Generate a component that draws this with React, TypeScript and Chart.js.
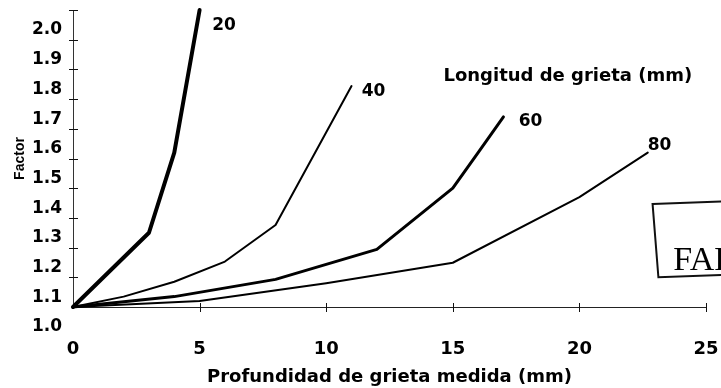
import React, { useEffect, useRef } from 'react';
import { Chart, registerables } from 'chart.js';

Chart.register(...registerables);

// ---- data ----
const seriesNames = ['20', '40', '60', '80'];
const x20 = [0, 3, 4, 5];
const y20 = [1.0, 1.25, 1.52, 2.0];
const x40 = [0, 2, 4, 6, 8, 11];
const y40 = [1.0, 1.035, 1.085, 1.153, 1.276, 1.744];
const x60 = [0, 4, 8, 12, 15, 16, 17];
const y60 = [1.0, 1.035, 1.093, 1.194, 1.4, 1.52, 1.64];
const x80 = [0, 5, 10, 15, 20, 22.7];
const y80 = [1.0, 1.02, 1.08, 1.149, 1.37, 1.52];
const xTicks = [0, 5, 10, 15, 20, 25];
const yTicks = [1.0, 1.1, 1.2, 1.3, 1.4, 1.5, 1.6, 1.7, 1.8, 1.9, 2.0];
const xTitle = 'Profundidad de grieta medida (mm)';
const yTitle = 'Factor';
const legendTitle = 'Longitud de grieta (mm)';
const stampText = 'FAL';

// annotation anchors (data units)
const curveLabelX = [5.5, 11.4, 17.6, 22.7];
const curveLabelY = [1.946, 1.725, 1.624, 1.542];
const legendTitleAt = [14.63, 1.775];
const stampBox = [
  [22.89, 1.347],
  [26.5, 1.358],
  [26.5, 1.111],
  [23.12, 1.1],
];
const stampTextAt = [23.71, 1.1246];

const xs = [x20, x40, x60, x80];
const ys = [y20, y40, y60, y80];
const widths = [4, 2, 3, 2];

const FONT = 'DejaVu Sans';

const annotationsPlugin = {
  id: 'annotations',
  afterDraw(chart: any) {
    const { ctx, chartArea, scales } = chart;
    const x = scales.x;
    const y = scales.y;
    ctx.save();
    // axis tick crosses
    ctx.strokeStyle = '#111';
    ctx.lineWidth = 1;
    xTicks.forEach((v) => {
      if (v === 0) return;
      const px = Math.round(x.getPixelForValue(v)) + 0.5;
      ctx.beginPath();
      ctx.moveTo(px, chartArea.bottom - 4);
      ctx.lineTo(px, chartArea.bottom + 5);
      ctx.stroke();
    });
    yTicks.forEach((v) => {
      if (v === 1.0) return;
      const py = Math.round(y.getPixelForValue(v)) + 0.5;
      ctx.beginPath();
      ctx.moveTo(chartArea.left - 4, py);
      ctx.lineTo(chartArea.left + 5, py);
      ctx.stroke();
    });
    // curve labels
    ctx.fillStyle = '#000';
    ctx.textBaseline = 'middle';
    ctx.textAlign = 'left';
    ctx.font = `bold 17px "${FONT}"`;
    seriesNames.forEach((n, i) => {
      ctx.fillText(n, x.getPixelForValue(curveLabelX[i]), y.getPixelForValue(curveLabelY[i]));
    });
    ctx.font = `bold 18px "${FONT}"`;
    ctx.fillText(legendTitle, x.getPixelForValue(legendTitleAt[0]), y.getPixelForValue(legendTitleAt[1]));
    // stamp box
    ctx.lineWidth = 2;
    ctx.beginPath();
    stampBox.forEach(([bx, by], i) => {
      const px = x.getPixelForValue(bx);
      const py = y.getPixelForValue(by);
      if (i === 0) ctx.moveTo(px, py);
      else ctx.lineTo(px, py);
    });
    ctx.closePath();
    ctx.stroke();
    ctx.textBaseline = 'alphabetic';
    ctx.font = '34px "Liberation Serif"';
    ctx.fillText(stampText, x.getPixelForValue(stampTextAt[0]), y.getPixelForValue(stampTextAt[1]));
    ctx.restore();
  },
};

export default function App() {
  const ref = useRef<HTMLCanvasElement | null>(null);
  useEffect(() => {
    document.body.style.margin = '0';
    const canvas = ref.current;
    if (!canvas) return;
    const chart = new Chart(canvas, {
      type: 'line',
      data: {
        datasets: seriesNames.map((name, i) => ({
          label: name,
          data: xs[i].map((xv, j) => ({ x: xv, y: ys[i][j] })),
          borderColor: '#000',
          backgroundColor: '#000',
          borderWidth: widths[i],
          pointRadius: 0,
          tension: 0,
          fill: false,
          clip: false as any,
          borderJoinStyle: 'round' as const,
          borderCapStyle: 'round' as const,
        })),
      },
      options: {
        responsive: false,
        animation: false,
        devicePixelRatio: 1,
        layout: { padding: { top: 10, right: 15, left: 0, bottom: 0 } },
        plugins: { legend: { display: false }, tooltip: { enabled: false } },
        scales: {
          x: {
            type: 'linear',
            min: 0,
            max: 25,
            afterFit: (s: any) => {
              s.height = 81;
              s.paddingLeft = 0;
              s.paddingRight = 0;
            },
            afterBuildTicks: (s: any) => {
              s.ticks = xTicks.map((v) => ({ value: v }));
            },
            grid: { display: false, drawTicks: false },
            border: { display: true, color: '#222', width: 1 },
            ticks: {
              autoSkip: false,
              maxRotation: 0,
              padding: 32,
              color: '#000',
              font: { family: FONT, weight: 'bold', size: 18 },
              callback: (v: any) => String(v),
            },
            title: {
              display: true,
              text: xTitle,
              color: '#000',
              font: { family: FONT, weight: 'bold', size: 18 },
              padding: { top: 0, bottom: 0 },
            },
          },
          y: {
            type: 'linear',
            min: 1,
            max: 2,
            afterFit: (s: any) => {
              s.width = 73;
              s.paddingTop = 0;
              s.paddingBottom = 0;
            },
            afterBuildTicks: (s: any) => {
              s.ticks = yTicks.map((v) => ({ value: v }));
            },
            grid: { display: false, drawTicks: false },
            border: { display: true, color: '#333', width: 1, dash: [2, 3] },
            ticks: {
              autoSkip: false,
              labelOffset: 20,
              padding: 11,
              color: '#000',
              font: { family: FONT, weight: 'bold', size: 17 },
              callback: (v: any) => Number(v).toFixed(1),
            },
            title: {
              display: true,
              text: yTitle,
              color: '#000',
              font: { family: 'Liberation Sans', weight: 'bold', size: 14 },
              padding: { top: 12, bottom: 0 },
            },
          },
        },
      },
      plugins: [annotationsPlugin],
    });
    return () => chart.destroy();
  }, []);
  return (
    <div style={{ width: 721, height: 388, background: '#fff' }}>
      <canvas ref={ref} width={721} height={388} />
    </div>
  );
}
